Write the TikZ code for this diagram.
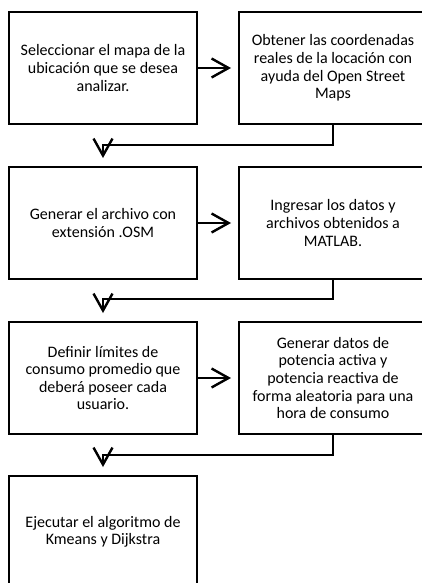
\documentclass[tikz,border=0pt]{standalone}
\usepackage{fontspec}
\setmainfont{Carlito}
\usepackage{tikz}
\usetikzlibrary{arrows.meta}

\begin{document}
\begin{tikzpicture}[x=1pt,y=-1pt,
    paso/.style={draw,line width=2pt,minimum width=188pt,minimum height=112pt,
        align=center,inner sep=0pt,font=\fontsize{16}{17.6}\selectfont},
    flecha/.style={line width=2pt,-{Straight Barb[length=17pt,width=19pt,line width=2.4pt]}}]
        \useasboundingbox (0,0) rectangle (422,583);
        \clip (0,0) rectangle (422,583);

        \node[paso] (sel) at (103,68) {Seleccionar el mapa de la\\ubicación que se desea\\analizar.};
        \node[paso] (obt) at (333,68) {Obtener las coordenadas\\reales de la locación con\\ayuda del Open Street\\Maps};
        \draw[flecha,shorten >=7pt] (sel) -- (obt);

        \node[paso] (gen) at (103,223) {Generar el archivo con\\extensión .OSM};
        \node[paso] (ing) at (333,223) {Ingresar los datos y\\archivos obtenidos a\\MATLAB.};
        \draw[flecha,shorten >=7pt] (gen) -- (ing);
        \draw[flecha,shorten >=8pt] (obt.south) -- ++(0,20) -| (gen.north);

        \node[paso] (def) at (103,378) {Definir límites de\\consumo promedio que\\deberá poseer cada\\usuario.};
        \node[paso] (pot) at (333,378) {Generar datos de\\potencia activa y\\potencia reactiva de\\forma aleatoria para una\\hora de consumo};
        \draw[flecha,shorten >=7pt] (def) -- (pot);
        \draw[flecha,shorten >=8pt] (ing.south) -- ++(0,19) -| (def.north);

        \node[paso] (eje) at (103,532) {Ejecutar el algoritmo de\\Kmeans y Dijkstra};
        \draw[flecha,shorten >=8pt] (pot.south) -- ++(0,20) -| (eje.north);

    \end{tikzpicture}
\end{document}
